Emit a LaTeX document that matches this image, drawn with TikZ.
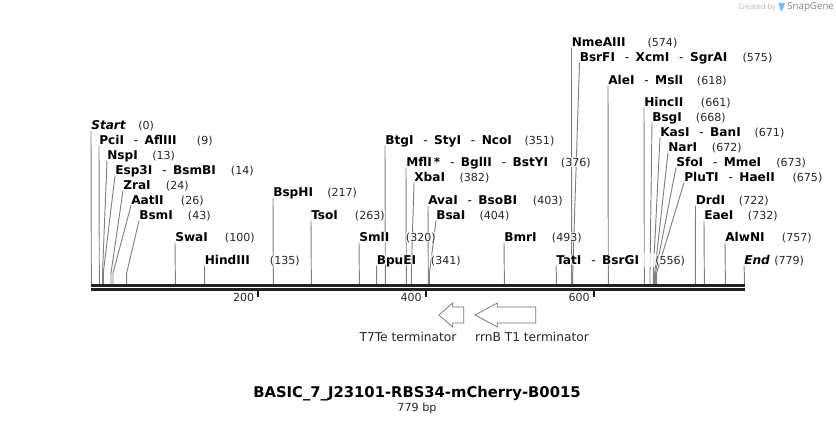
\documentclass[tikz,border=0pt]{standalone}
\usepackage{fontspec}
\setmainfont{DejaVu Sans}
\newfontfamily\logofont{Open Sans}
\usetikzlibrary{backgrounds}
\newcommand{\dsh}{\hspace{7.4pt}\textnormal{-}\hspace{4.8pt}}
\tikzset{
    enzyme/.style={anchor=west, inner sep=0pt, font=\bfseries\fontsize{9.1}{10}\selectfont, text height=7.75pt, text depth=0.25pt, text=black, fill=white, fill opacity=0.7, text opacity=1},
    sitenum/.style={anchor=west, inner sep=0pt, font=\fontsize{8.3}{10}\selectfont, text height=7.75pt, text depth=0.25pt, text=black!85, fill=white, fill opacity=0.7, text opacity=1},
    cutline/.style={draw=black!50, line width=0.7pt},
    tick/.style={draw=black!90, line width=1.5pt},
    ticknum/.style={anchor=east, inner sep=0pt, font=\fontsize{8.3}{10}\selectfont, text height=7.75pt, text depth=0.25pt, text=black!85},
    feature/.style={draw=black!55, fill=white, line width=0.55pt},
    featname/.style={inner sep=0pt, font=\fontsize{9.15}{10}\selectfont, text height=7.75pt, text depth=0.25pt, text=black!85},
}
\begin{document}
\begin{tikzpicture}[x=0.75pt,y=-0.75pt]
    \useasboundingbox (0,0) rectangle (836,423);
    % logo
    \node[inner sep=0pt, anchor=east, text=black!28, font=\logofont\fontsize{5.6}{7}\selectfont] (created) at (776,7.5) {Created by};
    \fill[blue!45!cyan!55] (778.5,2.5) -- (785,3.5) .. controls (784.5,7) and (782.5,9) .. (781,12) .. controls (780,9) and (779,6) .. (778.5,2.5);
    \node[inner sep=0pt, anchor=west, text=black!48, font=\logofont\fontsize{7.3}{9}\selectfont] (snapgene) at (787,7.5) {SnapGene};
    % left group
    \node[enzyme] (startS) at (91,125) {\itshape Start};
    \node[sitenum] (startN) at (138,125) {(0)};
    \node[enzyme] (pciI) at (99,140) {PciI\dsh AflIII};
    \node[sitenum] (pciN) at (196.7,140) {(9)};
    \node[enzyme] (nspI) at (107,155) {NspI};
    \node[sitenum] (nspN) at (152,155) {(13)};
    \node[enzyme] (esp3I) at (115,170) {Esp3I\dsh BsmBI};
    \node[sitenum] (espN) at (230.7,170) {(14)};
    \node[enzyme] (zraI) at (123,185) {ZraI};
    \node[sitenum] (zraN) at (165.7,185) {(24)};
    \node[enzyme] (aatII) at (131,200) {AatII};
    \node[sitenum] (aatN) at (180.7,200) {(26)};
    \node[enzyme] (bsmI) at (139,215) {BsmI};
    \node[sitenum] (bsmN) at (187.7,215) {(43)};
    \node[enzyme] (swaI) at (175,237) {SwaI};
    \node[sitenum] (swaN) at (224.7,237) {(100)};
    \node[enzyme] (hindIII) at (204.5,260) {HindIII};
    \node[sitenum] (hindN) at (269.7,260) {(135)};
    \node[enzyme] (bspHI) at (273,192) {BspHI};
    \node[sitenum] (bspN) at (327,192) {(217)};
    \node[enzyme] (tsoI) at (311,215) {TsoI};
    \node[sitenum] (tsoN) at (354.7,215) {(263)};
    % middle group
    \node[enzyme] (smlI) at (359,237) {SmlI};
    \node[sitenum] (smlN) at (405.7,237) {(320)};
    \node[enzyme] (bpuEI) at (376.5,260) {BpuEI};
    \node[sitenum] (bpuN) at (430.7,260) {(341)};
    \node[enzyme] (btgI) at (385,140) {BtgI\dsh StyI\dsh NcoI};
    \node[sitenum] (btgN) at (524.3,140) {(351)};
    \node[enzyme] (mflI) at (406,162) {MflI\,*\dsh BglII\dsh BstYI};
    \node[sitenum] (mflN) at (560.7,162) {(376)};
    \node[enzyme] (xbaI) at (414,177) {XbaI};
    \node[sitenum] (xbaN) at (459.3,177) {(382)};
    \node[enzyme] (avaI) at (428,200) {AvaI\dsh BsoBI};
    \node[sitenum] (avaN) at (532.7,200) {(403)};
    \node[enzyme] (bsaI) at (436,215) {BsaI};
    \node[sitenum] (bsaN) at (479.3,215) {(404)};
    \node[enzyme] (bmrI) at (504,237) {BmrI};
    \node[sitenum] (bmrN) at (551.7,237) {(493)};
    \node[enzyme] (tatI) at (556,260) {TatI\dsh BsrGI};
    \node[sitenum] (tatN) at (655,260) {(556)};
    % right group
    \node[enzyme] (nmeAIII) at (571.5,42) {NmeAIII};
    \node[sitenum] (nmeN) at (647.3,42) {(574)};
    \node[enzyme] (bsrFI) at (579.5,57) {BsrFI\dsh XcmI\dsh SgrAI};
    \node[sitenum] (bsrN) at (742.3,57) {(575)};
    \node[enzyme] (aleI) at (608,80) {AleI\dsh MslI};
    \node[sitenum] (aleN) at (696.7,80) {(618)};
    \node[enzyme] (hincII) at (644,102) {HincII};
    \node[sitenum] (hincN) at (700.7,102) {(661)};
    \node[enzyme] (bsgI) at (652,117) {BsgI};
    \node[sitenum] (bsgN) at (695.7,117) {(668)};
    \node[enzyme] (kasI) at (660,132) {KasI\dsh BanI};
    \node[sitenum] (kasN) at (754.3,132) {(671)};
    \node[enzyme] (narI) at (668,147) {NarI};
    \node[sitenum] (narN) at (711.7,147) {(672)};
    \node[enzyme] (sfoI) at (676,162) {SfoI\dsh MmeI};
    \node[sitenum] (sfoN) at (776,162) {(673)};
    \node[enzyme] (pluTI) at (684,177) {PluTI\dsh HaeII};
    \node[sitenum] (pluN) at (792.3,177) {(675)};
    \node[enzyme] (drdI) at (695.5,200) {DrdI};
    \node[sitenum] (drdN) at (738.7,200) {(722)};
    \node[enzyme] (eaeI) at (704,215) {EaeI};
    \node[sitenum] (eaeN) at (747.7,215) {(732)};
    \node[enzyme] (alwNI) at (725,237) {AlwNI};
    \node[sitenum] (alwN) at (781.7,237) {(757)};
    \node[enzyme] (endS) at (744,260) {\itshape End};
    \node[sitenum] (endN) at (774,260) {(779)};
    % lines to the sequence
    \begin{scope}[on background layer]
        \foreach \a/\x in {startS/91.3, pciI/99.3, nspI/102.5, esp3I/103.3, zraI/111, aatII/113, bsmI/126.7,
            swaI/175.3, hindIII/204.7, bspHI/273.3, tsoI/311.3, smlI/359.3, bpuEI/376.7, btgI/385.3,
            mflI/406.3, xbaI/411.3, avaI/428.3, bsaI/429.5, bmrI/504.3, tatI/556.3, nmeAIII/571.7, bsrFI/572.7,
            aleI/608.3, hincII/644.3, bsgI/650, kasI/653.3, narI/654.7, sfoI/655.5, pluTI/656.7,
            drdI/695.3, eaeI/704.3, alwNI/725.3, endS/744.3} {
            \coordinate (\a-bend) at (\x,273);
            \coordinate (\a-site) at (\x,284);
            \draw[cutline] (\a.south west) -- (\a-bend) -- (\a-site);
        }
        \fill[white, opacity=0.7] (640,253) rectangle (655,267);
    \end{scope}
    % sequence
    \fill[black!87] (91,284) rectangle (745,286.8);
    \fill[black!87] (91,288) rectangle (745,290.8);
    \coordinate (t200) at (258,291);
    \coordinate (t400) at (425.5,291);
    \coordinate (t600) at (593.5,291);
    \foreach \t/\n in {t200/200, t400/400, t600/600} {
        \draw[tick] (\t) -- ++(0,6);
        \node[ticknum] (\t n) at ([xshift=-2.6pt,yshift=-4.5pt]\t) {\n};
    }
    % terminators
    \draw[feature] (439,315) -- (452.7,303) -- (452.7,307) -- (463.7,307) -- (463.7,323) -- (452.7,323) -- (452.7,327) -- cycle;
    \draw[feature] (475,315) -- (497.3,303) -- (497.3,307) -- (535.7,307) -- (535.7,323) -- (497.3,323) -- (497.3,327) -- cycle;
    \node[featname] (t7te) at (408,337) {T7Te terminator};
    \node[featname] (rrnb) at (532,337) {rrnB T1 terminator};
    % title
    \node[inner sep=0pt, text height=8.75pt, text depth=0.25pt, font=\bfseries\fontsize{11.08}{12}\selectfont] (title) at (417,392) {BASIC\_7\_J23101-RBS34-mCherry-B0015};
    \node[inner sep=0pt, text height=7.75pt, text depth=0.25pt, text=black!85, font=\fontsize{8.4}{10}\selectfont] (length) at (417,407) {779 bp};
\end{tikzpicture}
\end{document}
